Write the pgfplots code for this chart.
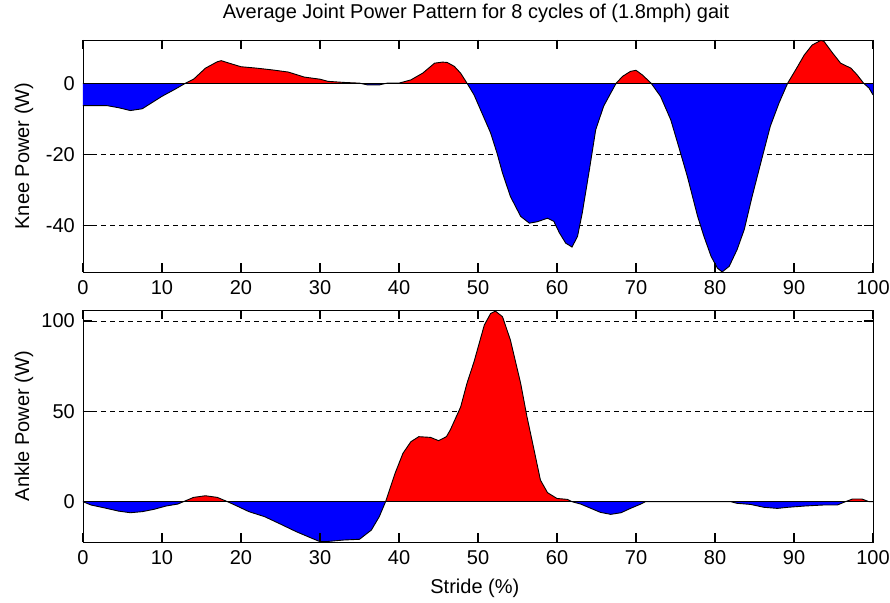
\documentclass[border=0pt]{standalone}
\usepackage{pgfplots}
\pgfplotsset{compat=1.18}
\usepackage{pgfplotstable}
\usepackage{fontspec}
\setmainfont{Liberation Sans}

\pgfplotstableread{
x y p n
0 -6.3 0 -6.3
3 -6.3 0 -6.3
4.5 -6.9 0 -6.9
6 -7.7 0 -7.7
7.5 -7.2 0 -7.2
9 -5.1 0 -5.1
10 -3.7 0 -3.7
11.5 -1.9 0 -1.9
13 0 0 0
14 1.1 1.1 0
15.5 4.2 4.2 0
17 6.0 6.0 0
17.5 6.3 6.3 0
18.5 5.6 5.6 0
20 4.6 4.6 0
22 4.2 4.2 0
24 3.7 3.7 0
26 3.1 3.1 0
28 1.7 1.7 0
30 1.1 1.1 0
31 0.5 0.5 0
33 0.2 0.2 0
35 0 0 0
36 -0.5 0 -0.5
37.5 -0.5 0 -0.5
38.5 0 0 0
40 0 0 0
41.5 0.9 0.9 0
43 2.8 2.8 0
44.5 5.6 5.6 0
45.5 5.9 5.9 0
46.1 5.8 5.8 0
47 4.7 4.7 0
47.8 2.8 2.8 0
48.6 0 0 0
49.5 -3.3 0 -3.3
50.5 -8.4 0 -8.4
51.6 -14 0 -14
52.4 -19.6 0 -19.6
53.1 -25.2 0 -25.2
54.1 -31.8 0 -31.8
55.4 -37.4 0 -37.4
56.5 -39.3 0 -39.3
57.5 -38.9 0 -38.9
58.8 -37.9 0 -37.9
59.6 -38.8 0 -38.8
60.3 -42 0 -42
61.1 -44.9 0 -44.9
61.9 -46 0 -46
62.6 -43 0 -43
63.2 -36.4 0 -36.4
64.1 -24.3 0 -24.3
64.9 -13.1 0 -13.1
65.9 -6.5 0 -6.5
66.8 -2.8 0 -2.8
67.5 0 0 0
68.3 1.9 1.9 0
69.3 3.3 3.3 0
70 3.6 3.6 0
70.8 2.3 2.3 0
71.9 0 0 0
73.1 -3.7 0 -3.7
74.4 -10.3 0 -10.3
75.4 -17.8 0 -17.8
76.5 -26.2 0 -26.2
77.8 -37.4 0 -37.4
78.6 -43 0 -43
79.5 -48.6 0 -48.6
80.3 -51.9 0 -51.9
80.9 -53 0 -53
81.8 -51.4 0 -51.4
82.8 -46.7 0 -46.7
83.7 -41.1 0 -41.1
84.7 -31.8 0 -31.8
86 -20.6 0 -20.6
87 -12.1 0 -12.1
88.1 -5.6 0 -5.6
89.2 0 0 0
90.2 3.7 3.7 0
91.3 7.9 7.9 0
92.3 10.7 10.7 0
93.4 12 12 0
93.8 11.7 11.7 0
94.9 8.4 8.4 0
95.9 5.6 5.6 0
97.2 4.2 4.2 0
98 2.3 2.3 0
98.8 0 0 0
99.5 -1.4 0 -1.4
100 -3.3 0 -3.3
}\knee

\pgfplotstableread{
x y p n
0 0 0 0
1 -1.8 0 -1.8
3 -3.7 0 -3.7
4.5 -5.2 0 -5.2
6 -6.1 0 -6.1
7.5 -5.5 0 -5.5
9 -4.2 0 -4.2
10.5 -2.4 0 -2.4
12 -1.3 0 -1.3
12.7 0 0 0
14 2.4 2.4 0
15.5 3.3 3.3 0
17 2.4 2.4 0
18.3 0 0 0
19.5 -2.4 0 -2.4
21 -5.5 0 -5.5
23 -8.3 0 -8.3
25 -12.4 0 -12.4
27 -16.6 0 -16.6
29 -20.3 0 -20.3
30 -22.1 0 -22.1
31 -22 0 -22
33 -21.2 0 -21.2
35 -20.8 0 -20.8
36.5 -15.7 0 -15.7
37.5 -8.3 0 -8.3
38.3 0 0 0
39.5 15.7 15.7 0
40.5 26.8 26.8 0
41.5 33.2 33.2 0
42.5 36 36 0
44 35.6 35.6 0
45 33.8 33.8 0
46 36 36 0
46.5 39.8 39.8 0
47.8 52.4 52.4 0
48.6 65.5 65.5 0
49.5 77.5 77.5 0
50.8 97.8 97.8 0
51.6 104.2 104.2 0
52.2 105.5 105.5 0
53.1 102.4 102.4 0
54.1 89.5 89.5 0
55.4 65.5 65.5 0
56.2 47 47 0
57.1 28.6 28.6 0
57.9 12 12 0
58.8 5 5 0
60 1.8 1.8 0
61.3 1.3 1.3 0
61.9 0 0 0
63 -1.3 0 -1.3
64.3 -3.7 0 -3.7
65.5 -5.9 0 -5.9
66.8 -7 0 -7
68.1 -6.1 0 -6.1
69.3 -3.7 0 -3.7
70.6 -1.3 0 -1.3
71.2 0 0 0
82 0 0 0
82.8 -0.9 0 -0.9
84.5 -1.5 0 -1.5
86.2 -3.1 0 -3.1
87.9 -3.7 0 -3.7
89.2 -3.1 0 -3.1
91.3 -2.4 0 -2.4
93.8 -1.8 0 -1.8
95.5 -1.8 0 -1.8
96.5 0 0 0
97.4 1.5 1.5 0
98.6 1.5 1.5 0
99.5 0 0 0
100 0 0 0
}\ankle

\pgfplotsset{
  matstyle/.style={
    scale only axis, width=790pt, height=232pt,
    xmin=0, xmax=100, xtick={0,10,...,100},
    tick align=inside, major tick length=9pt,
    ymajorgrids, grid style={black, line width=0.8pt, dash pattern=on 5pt off 4pt},
    axis line style={black, line width=0.9pt},
    tick style={black, line width=1.2pt},
    /pgf/number format/assume math mode=true,
    tick label style={font=\fontsize{20}{24}\selectfont, inner sep=0pt},
    xticklabel shift=8pt, yticklabel shift=8pt,
    label style={font=\fontsize{20}{24}\selectfont},
    ylabel style={at={(axis description cs:-0.0747,0.5)}, anchor=center, rotate=0},
  },
  tk/.style={black, line width=1.2pt, forget plot},
}

\begin{document}
\begin{tikzpicture}
\begin{axis}[matstyle, name=top, at={(0,0)}, anchor=north west,
  ymin=-53, ymax=12.1, ytick={-40,-20,0},
  ylabel={Knee Power (W)},
  title={Average Joint Power Pattern for 8 cycles of (1.8mph) gait},
  title style={font=\fontsize{20}{24}\selectfont, at={(axis description cs:0.4975,1)}, anchor=base, yshift=15pt},
]
\addplot[fill=red, draw=none] table[x=x, y=p] {\knee} \closedcycle;
\addplot[fill=blue, draw=none] table[x=x, y=n] {\knee} \closedcycle;
\addplot[black, line width=0.9pt] coordinates {(0,0) (100,0)};
\addplot[black, line width=0.9pt] table[x=x, y=y] {\knee};
\pgfplotsinvokeforeach{10,20,30,40,50,60,70,80,90}{
  \addplot[tk] coordinates {(#1,-53) (#1,-50.48)};
  \addplot[tk] coordinates {(#1,12.1) (#1,9.58)};
}
\pgfplotsinvokeforeach{-40,-20}{
  \addplot[tk] coordinates {(0,#1) (1.14,#1)};
  \addplot[tk] coordinates {(100,#1) (98.86,#1)};
}
\end{axis}
\begin{axis}[matstyle, name=bot, at={(0,-270pt)}, anchor=north west,
  ymin=-22.3, ymax=106.1, ytick={0,50,100},
  ylabel={Ankle Power (W)},
  xlabel={Stride (\%)},
  xlabel style={at={(axis description cs:0.496,0)}, anchor=base, yshift=-51pt},
]
\addplot[fill=red, draw=none] table[x=x, y=p] {\ankle} \closedcycle;
\addplot[fill=blue, draw=none] table[x=x, y=n] {\ankle} \closedcycle;
\addplot[black, line width=0.9pt] coordinates {(0,0) (100,0)};
\addplot[black, line width=0.9pt] table[x=x, y=y] {\ankle};
\pgfplotsinvokeforeach{10,20,30,40,50,60,70,80,90}{
  \addplot[tk] coordinates {(#1,-22.3) (#1,-17.32)};
  \addplot[tk] coordinates {(#1,106.1) (#1,101.12)};
}
\pgfplotsinvokeforeach{50,100}{
  \addplot[tk] coordinates {(0,#1) (1.14,#1)};
  \addplot[tk] coordinates {(100,#1) (98.86,#1)};
}
\end{axis}
\path[use as bounding box] (-83pt,40pt) rectangle (807pt,-562pt);
\end{tikzpicture}
\end{document}
